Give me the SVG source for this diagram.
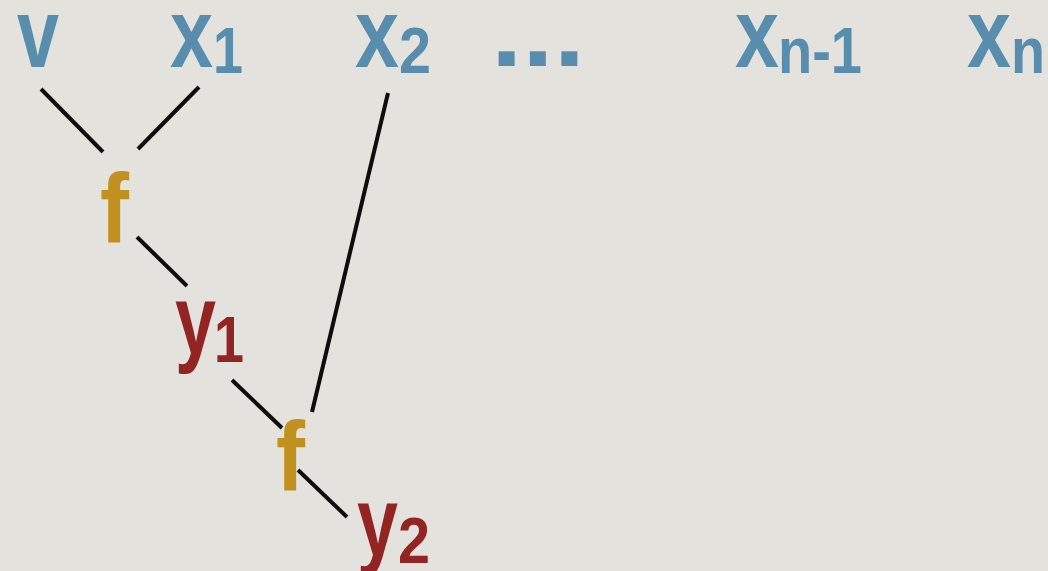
<svg xmlns="http://www.w3.org/2000/svg" width="1048" height="571" viewBox="0 0 1048 571">
<style>
text{font-family:"Liberation Sans",Arial,sans-serif;font-weight:bold;}
.m{font-size:98px;}
.s{font-size:64px;}
.in{fill:#588DAE;}
.fn{fill:#C1911F;}
.out{fill:#922424;}
.c{stroke:#0d0d0d;stroke-width:4;fill:none;}
</style>
<rect width="1048" height="571" fill="#E3E2DD"/>
<g id="connectors">
<line class="c" x1="41" y1="89" x2="103" y2="152"/>
<line class="c" x1="199" y1="87" x2="138" y2="149"/>
<line class="c" x1="137" y1="237" x2="187" y2="286"/>
<line class="c" x1="232" y1="380" x2="282" y2="428"/>
<line class="c" x1="388" y1="93" x2="312" y2="412"/>
<line class="c" x1="298" y1="470" x2="347" y2="517"/>
</g>
<g id="node-v"><text class="m in" x="17" y="67" textLength="42" lengthAdjust="spacingAndGlyphs">v</text></g>
<g id="node-x1"><text class="m in" x="170" y="67" textLength="43" lengthAdjust="spacingAndGlyphs">x</text><text class="s in" x="213" y="73" textLength="30" lengthAdjust="spacingAndGlyphs">1</text></g>
<g id="node-x2"><text class="m in" x="355" y="67" textLength="44" lengthAdjust="spacingAndGlyphs">x</text><text class="s in" x="399" y="73" textLength="32" lengthAdjust="spacingAndGlyphs">2</text></g>
<g id="node-dots"><text class="m in" x="491" y="66" textLength="94" lengthAdjust="spacingAndGlyphs">...</text></g>
<g id="node-xn-1"><text class="m in" x="735" y="67" textLength="44" lengthAdjust="spacingAndGlyphs">x</text><text class="s in" x="778" y="73" textLength="84" lengthAdjust="spacingAndGlyphs">n-1</text></g>
<g id="node-xn"><text class="m in" x="967" y="67" textLength="44" lengthAdjust="spacingAndGlyphs">x</text><text class="s in" x="1011" y="73" textLength="34" lengthAdjust="spacingAndGlyphs">n</text></g>
<g id="node-f1"><text class="m fn" x="100" y="242" textLength="29" lengthAdjust="spacingAndGlyphs">f</text></g>
<g id="node-y1"><text class="m out" x="175" y="354" textLength="41" lengthAdjust="spacingAndGlyphs">y</text><text class="s out" x="214" y="362" textLength="30" lengthAdjust="spacingAndGlyphs">1</text></g>
<g id="node-f2"><text class="m fn" x="276" y="490" textLength="29" lengthAdjust="spacingAndGlyphs">f</text></g>
<g id="node-y2"><text class="m out" x="357" y="556" textLength="41" lengthAdjust="spacingAndGlyphs">y</text><text class="s out" x="398" y="563" textLength="32" lengthAdjust="spacingAndGlyphs">2</text></g>
</svg>
